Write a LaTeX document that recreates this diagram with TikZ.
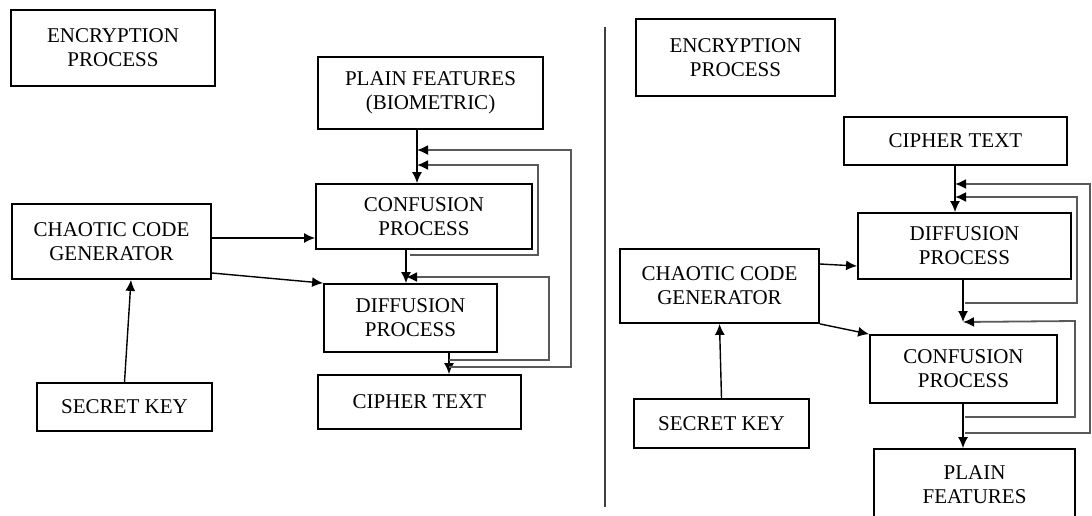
\documentclass[tikz,border=0pt]{standalone}
\usepackage{fontspec}
\setmainfont{Liberation Serif}
\usetikzlibrary{arrows.meta}
\tikzstyle{block} = [rectangle, line width=0.9pt, inner sep=0pt, align=center, draw=black, font=\fontsize{10.5}{12}\selectfont]
\tikzstyle{arrow} = [line width=0.7pt, -{Latex[length=5.5pt,width=5pt]}]
\tikzstyle{feedback} = [line width=0.9pt, draw=black!65, -{Latex[length=5.5pt,width=5pt,black]}]

\begin{document}
\begin{tikzpicture}[x=0.5pt, y=-0.5pt]
	\useasboundingbox (0,0) rectangle (1092,515);
	% left side
	\node (EncryptionL) [block, minimum width=102pt, minimum height=38pt] at (113,48) {ENCRYPTION\\PROCESS};
	\node (PlainFeatures) [block, minimum width=112.5pt, minimum height=36pt] at (430.5,93) {PLAIN FEATURES\\(BIOMETRIC)};
	\node (Confusion) [block, minimum width=108pt, minimum height=32.5pt] at (424,216.5) {CONFUSION\\PROCESS};
	\node (Diffusion) [block, minimum width=86.5pt, minimum height=34pt] at (410.5,318) {DIFFUSION\\PROCESS};
	\node (CipherText) [block, minimum width=101.5pt, minimum height=27pt] at (419.5,402) {CIPHER TEXT};
	\node (ChaoticL) [block, minimum width=99.5pt, minimum height=37.5pt] at (111.5,241.5) {CHAOTIC CODE\\GENERATOR};
	\node (SecretKey) [block, minimum width=87.5pt, minimum height=24pt] at (124.5,407) {SECRET KEY};
	\coordinate (JoinA) at (417,150);
	\coordinate (JoinB) at (417,165);
	\coordinate (JoinC) at (406,277);
	\coordinate (OutConf) at (410,255);
	\coordinate (OutDiff) at (449,360);
	\coordinate (OutCipher) at (449,367);
	\draw [arrow] (PlainFeatures.south -| JoinA) -- (Confusion.north -| JoinA);
	\draw [arrow] (Confusion.south -| JoinC) -- (Diffusion.north -| JoinC);
	\draw [arrow] (Diffusion.south -| OutDiff) -- (CipherText.north -| OutDiff);
	\draw [arrow] ([yshift=1.75pt]ChaoticL.east) -- ([yshift=1.75pt]ChaoticL.east -| Confusion.west);
	\draw [arrow] ([yshift=-15.75pt]ChaoticL.east) -- (Diffusion.north west);
	\draw [arrow] (SecretKey.north) -- ([xshift=9.75pt]ChaoticL.south);
	\draw [feedback] (OutCipher) -| (571,150) -- (JoinA);
	\draw [feedback] (OutConf) -| (538,165) -- (JoinB);
	\draw [feedback] (OutDiff) -| (549,277) -- (JoinC);
	% separator
	\draw [line width=0.8pt, black!75] (605,27) -- (605,507);
	% right side
	\node (EncryptionR) [block, minimum width=99.5pt, minimum height=38.5pt] at (735.5,57.5) {ENCRYPTION\\PROCESS};
	\node (CipherTextR) [block, minimum width=111.5pt, minimum height=24pt] at (955.5,141) {CIPHER TEXT};
	\node (DiffusionR) [block, minimum width=106.5pt, minimum height=33pt] at (964.5,246) {DIFFUSION\\PROCESS};
	\node (ChaoticR) [block, minimum width=99.5pt, minimum height=37pt] at (719.5,286) {CHAOTIC CODE\\GENERATOR};
	\node (ConfusionR) [block, minimum width=93.5pt, minimum height=34pt] at (963.5,369) {CONFUSION\\PROCESS};
	\node (SecretKeyR) [block, minimum width=87.5pt, minimum height=24.5pt] at (721.5,423.5) {SECRET KEY};
	\node (PlainFeaturesR) [block, minimum width=100.5pt, minimum height=36pt] at (974.5,485) {PLAIN\\FEATURES};
	\coordinate (JoinD) at (955,184);
	\coordinate (JoinE) at (955,197);
	\coordinate (JoinF) at (963,322);
	\coordinate (OutDiffR) at (965,303);
	\coordinate (OutConfR) at (965,417);
	\coordinate (OutPlainR) at (965,433);
	\draw [arrow] (CipherTextR.south -| JoinD) -- (DiffusionR.north -| JoinD);
	\draw [arrow] (DiffusionR.south -| JoinF) -- (JoinF);
	\draw [arrow] (ConfusionR.south -| JoinF) -- (PlainFeaturesR.north -| JoinF);
	\draw [arrow] ([yshift=11pt]ChaoticR.east) -- ([yshift=-10pt]DiffusionR.west);
	\draw [arrow] (ChaoticR.south east) -- (ConfusionR.north west);
	\draw [arrow] (SecretKeyR.north) -- (ChaoticR.south);
	\draw [feedback] (OutPlainR) -| (1090,184) -- (JoinD);
	\draw [feedback] (OutDiffR) -| (1077,197) -- (JoinE);
	\draw [feedback] (OutConfR) -| (1075,321) -- (JoinF);
\end{tikzpicture}
\end{document}
